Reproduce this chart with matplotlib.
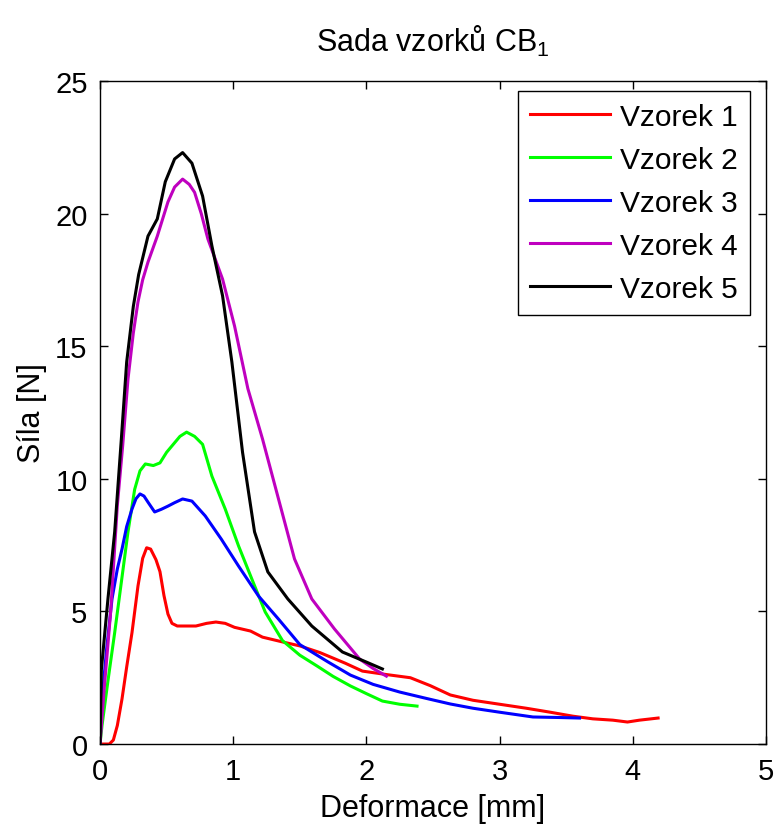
import matplotlib
matplotlib.use('Agg')
import matplotlib.pyplot as plt

plt.rcParams['font.family'] = ['Liberation Sans', 'DejaVu Sans']
plt.rcParams['mathtext.default'] = 'regular'

# ── data ─────────────────────────────────────────────────────────────────
x1 = [0, 0.07, 0.10, 0.13, 0.165, 0.20, 0.24, 0.285, 0.32, 0.35, 0.38, 0.42, 0.45, 0.48, 0.51,
      0.54, 0.58, 0.65, 0.72, 0.80, 0.87, 0.94, 1.01, 1.13, 1.22, 1.37, 1.50, 1.65, 1.84, 1.97,
      2.15, 2.33, 2.48, 2.63, 2.80, 3.00, 3.20, 3.38, 3.55, 3.70, 3.85, 3.96, 4.05, 4.19]
y1 = [0, 0, 0.15, 0.7, 1.7, 2.9, 4.2, 5.96, 7.0, 7.4, 7.35, 6.95, 6.5, 5.6, 4.9,
      4.55, 4.45, 4.45, 4.45, 4.55, 4.6, 4.55, 4.4, 4.26, 4.03, 3.85, 3.7, 3.45, 3.05, 2.75,
      2.62, 2.5, 2.2, 1.85, 1.65, 1.5, 1.35, 1.2, 1.05, 0.95, 0.9, 0.83, 0.9, 0.98]

x2 = [0, 0.015, 0.06, 0.11, 0.16, 0.21, 0.26, 0.30, 0.34, 0.40, 0.45, 0.50, 0.54, 0.60, 0.65,
      0.71, 0.77, 0.84, 0.94, 1.04, 1.14, 1.24, 1.37, 1.50, 1.63, 1.75, 1.88, 2.00, 2.12, 2.25, 2.38]
y2 = [0, 0.7, 2.4, 4.2, 6.1, 8.0, 9.6, 10.3, 10.56, 10.5, 10.6, 11.0, 11.24, 11.6, 11.76,
      11.6, 11.3, 10.1, 8.86, 7.47, 6.22, 4.98, 3.9, 3.35, 2.94, 2.55, 2.19, 1.9, 1.62, 1.5, 1.43]

x3 = [0, 0.015, 0.05, 0.09, 0.13, 0.165, 0.20, 0.24, 0.27, 0.30, 0.33, 0.36, 0.41, 0.46, 0.51,
      0.56, 0.62, 0.69, 0.79, 0.91, 1.04, 1.19, 1.34, 1.50, 1.71, 1.88, 2.05, 2.25, 2.45, 2.63,
      2.80, 3.00, 3.25, 3.45, 3.60]
y3 = [0, 1.7, 3.6, 5.47, 6.6, 7.35, 8.2, 8.86, 9.25, 9.43, 9.35, 9.12, 8.75, 8.85, 8.97,
      9.1, 9.24, 9.16, 8.6, 7.73, 6.71, 5.58, 4.71, 3.75, 3.1, 2.6, 2.25, 1.96, 1.72, 1.51,
      1.35, 1.2, 1.02, 1.0, 0.98]

x4 = [0, 0.03, 0.08, 0.13, 0.17, 0.21, 0.25, 0.285, 0.32, 0.36, 0.43, 0.51, 0.56, 0.62, 0.67,
      0.71, 0.76, 0.81, 0.92, 1.01, 1.11, 1.22, 1.34, 1.46, 1.59, 1.76, 1.95, 2.05, 2.15]
y4 = [0, 2.0, 5.0, 9.0, 11.24, 13.76, 15.5, 16.67, 17.5, 18.17, 19.15, 20.44, 21.0, 21.3, 21.1,
      20.8, 20.0, 19.04, 17.53, 15.76, 13.4, 11.5, 9.24, 6.98, 5.47, 4.34, 3.2, 2.85, 2.56]

x5 = [0, 0.01, 0.06, 0.11, 0.16, 0.2, 0.25, 0.29, 0.36, 0.43, 0.49, 0.56, 0.62, 0.69, 0.77,
      0.84, 0.92, 0.99, 1.07, 1.16, 1.26, 1.41, 1.59, 1.82, 2.0, 2.12]
y5 = [0, 2.8, 5.5, 8.0, 11.5, 14.4, 16.5, 17.7, 19.15, 19.8, 21.2, 22.06, 22.3, 21.9, 20.66,
      18.78, 16.9, 14.4, 11.0, 8.0, 6.49, 5.47, 4.45, 3.47, 3.09, 2.83]

labels = ["Vzorek 1", "Vzorek 2", "Vzorek 3", "Vzorek 4", "Vzorek 5"]
colors = ["#ff0000", "#00ff00", "#0000ff", "#bf00bf", "#000000"]

# ── chart ────────────────────────────────────────────────────────────────
fig = plt.figure(figsize=(7.76, 8.28), dpi=100)
ax = fig.add_axes([0.1289, 0.1002, 0.8582, 0.8008])

series = [(x1, y1), (x2, y2), (x3, y3), (x4, y4), (x5, y5)]
for (xs, ys), lab, col in zip(series, labels, colors):
    ax.plot(xs, ys, color=col, linewidth=2.2, label=lab)

ax.set_xlim(0, 5)
ax.set_ylim(0, 25)
ax.set_xticks([0, 1, 2, 3, 4, 5])
ax.set_yticks([0, 5, 10, 15, 20, 25])
ax.tick_params(direction='in', length=6, width=1, top=True, right=True,
               labelsize=21, pad=9)
for s in ax.spines.values():
    s.set_linewidth(1.0)

ax.set_title("Sada vzorků CB$_1$", fontsize=22, pad=22)
ax.set_xlabel("Deformace [mm]", fontsize=22, labelpad=6)
ax.set_ylabel("Síla [N]", fontsize=22, labelpad=6)

leg = ax.legend(loc='upper right', bbox_to_anchor=(0.976, 0.985), fontsize=21.5,
                handlelength=2.7, labelspacing=0.5, borderaxespad=0, borderpad=0.4,
                handletextpad=0.33, fancybox=False, framealpha=1)
leg.get_frame().set_edgecolor('black')
leg.get_frame().set_linewidth(1.0)

plt.savefig("out.png", dpi=100)
plt.close()
